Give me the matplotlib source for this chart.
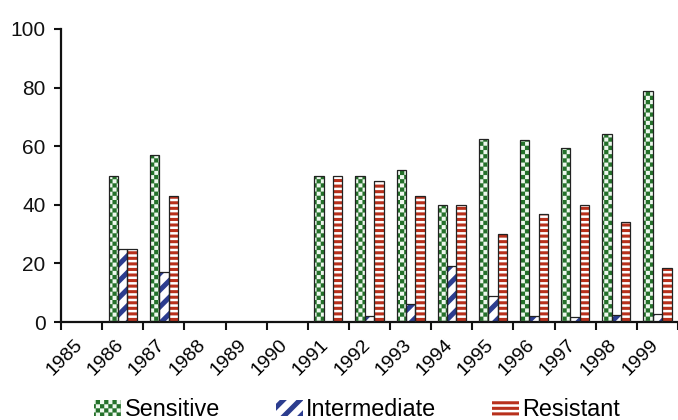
import warnings
import numpy as np
import matplotlib
matplotlib.use("Agg")
import matplotlib.pyplot as plt
import matplotlib.transforms as mtransforms
from matplotlib import hatch as mhatch
from matplotlib.path import Path
from matplotlib.patches import Patch

# values (percent of isolates)
years = [str(y) for y in range(1985, 2000)]
sensitive = [0, 50, 57, 0, 0, 0, 50, 50, 52, 40, 62.5, 62, 59.5, 64, 79]
intermediate = [0, 25, 17, 0, 0, 0, 0, 2, 6, 19, 9, 2, 1.6, 2.4, 2.7]
resistant = [0, 25, 43, 0, 0, 0, 50, 48, 43, 40, 30, 36.7, 40, 34, 18.5]

labels = ["Sensitive", "Intermediate", "Resistant"]


class CheckerHatch(mhatch.HatchPatternBase):
    """Filled checkerboard squares, one 'c' per density step."""

    def __init__(self, hatch, density):
        n = hatch.count("c") * density
        n += n % 2
        self.n = n
        self.num_vertices = (n * n // 2) * 5

    def set_vertices_and_codes(self, vertices, codes):
        s = 1.0 / self.n
        k = 0
        for i in range(self.n):
            for j in range(self.n):
                if (i + j) % 2:
                    continue
                x0, y0 = i * s, j * s
                vertices[k:k + 5] = [(x0, y0), (x0 + s, y0), (x0 + s, y0 + s),
                                     (x0, y0 + s), (x0, y0)]
                codes[k:k + 5] = [Path.MOVETO, Path.LINETO, Path.LINETO,
                                  Path.LINETO, Path.CLOSEPOLY]
                k += 5


mhatch._hatch_types.append(CheckerHatch)
warnings.filterwarnings("ignore", message=".*hatch must consist.*")

# (face colour, hatch colour, hatch, hatch linewidth in pt)
styles = [
    ("#eef8ee", "#24712a", "cccc", 0.1),
    ("white", "#2c3d8f", "//", 3.6),
    ("white", "#b8301c", "---", 2.2),
]

plt.rcParams["font.family"] = ["Liberation Sans", "DejaVu Sans"]

fig = plt.figure(figsize=(6.78, 4.2), dpi=100)
ax = fig.add_axes([61 / 678, 1 - 322 / 420, 617 / 678, 293 / 420])

x = np.arange(len(years))
width = 0.228
offsets = [-width, 0, width]

handles = []
for vals, off, (face, hcol, hatch, hlw) in zip(
        [sensitive, intermediate, resistant], offsets, styles):
    # the hatch linewidth is picked up when the patches are made
    with plt.rc_context({"hatch.linewidth": hlw}):
        ax.bar(x + off, vals, width, color=face, edgecolor=hcol,
               hatch=hatch, linewidth=0, zorder=2)
        handles.append(Patch(facecolor=face, edgecolor=hcol, hatch=hatch,
                             linewidth=0))
    # thin dark outline drawn on top
    ax.bar(x + off, vals, width, facecolor="none", edgecolor="#222222",
           linewidth=0.9, zorder=3)

ax.set_xlim(-0.5, len(years) - 0.5)
ax.set_ylim(0, 100)

for side in ["top", "right"]:
    ax.spines[side].set_visible(False)
for side in ["left", "bottom"]:
    ax.spines[side].set_linewidth(1.6)
    ax.spines[side].set_color("#111111")

ax.set_yticks([0, 20, 40, 60, 80, 100])
ax.tick_params(axis="y", direction="out", length=5, width=1.5,
               labelsize=15, pad=6, colors="#111111")

# year labels at slot centres, tick marks at the slot boundaries
ax.set_xticks(x)
ax.set_xticklabels(years, rotation=45, ha="right", fontsize=14)
ax.tick_params(axis="x", which="major", length=0, pad=10)
shift = mtransforms.ScaledTranslation(4 / 100, 0, fig.dpi_scale_trans)
for lab in ax.get_xticklabels():
    lab.set_transform(lab.get_transform() + shift)
ax.set_xticks(np.arange(-0.5, len(years), 1), minor=True)
ax.tick_params(axis="x", which="minor", direction="out", length=6,
               width=1.5, colors="#111111")

leg = fig.legend(handles, labels, loc="center", bbox_to_anchor=(0.527, 0.024),
                 ncol=3, frameon=False, fontsize=16.8, handlelength=1.15,
                 handleheight=0.65, handletextpad=0.15, columnspacing=2.4)
for h, st in zip(leg.legend_handles, styles):
    if hasattr(h, "_hatch_linewidth"):
        h._hatch_linewidth = st[3]

fig.savefig("out.png", dpi=100)
